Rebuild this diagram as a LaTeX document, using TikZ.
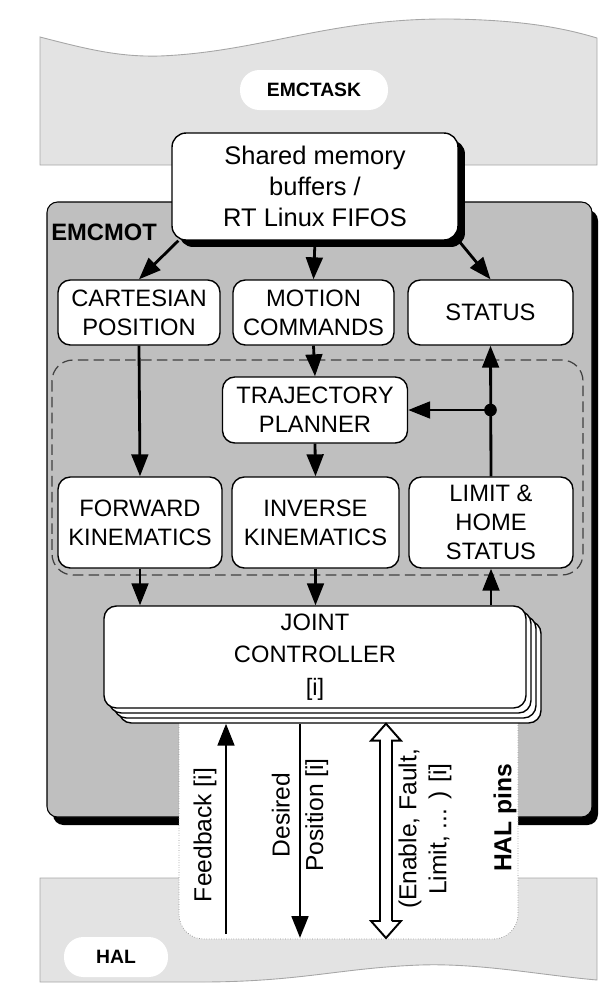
\documentclass[tikz,border=0pt]{standalone}
\usepackage{fontspec}
\setmainfont{Liberation Sans}
\usetikzlibrary{arrows.meta,shadows,calc}

\tikzset{
  box/.style={draw, fill=white, rounded corners=7pt, align=center, inner sep=0pt,
    line width=0.8pt, font=\fontsize{13.5}{16.5}\selectfont},
  arr/.style={line width=1.6pt, -{Triangle[length=12.5pt,width=9.5pt]}},
  pill/.style={fill=white, rounded corners=11pt, minimum height=0.8cm, inner sep=0pt,
    font=\bfseries\fontsize{11}{13}\selectfont},
  band/.style={fill=black!11, draw=black!35, line width=0.5pt},
  pinlabel/.style={rotate=90, align=center, inner sep=0pt, font=\fontsize{14}{19}\selectfont},
  shadowbox/.style={general shadow={fill=black, shadow xshift=0.14cm, shadow yshift=-0.14cm}},
  jointstack/.style={
    copy shadow={shadow xshift=0.3cm, shadow yshift=-0.3cm, draw=black, fill=white},
    copy shadow={shadow xshift=0.2cm, shadow yshift=-0.2cm, draw=black, fill=white},
    copy shadow={shadow xshift=0.1cm, shadow yshift=-0.1cm, draw=black, fill=white}},
}

\begin{document}
\begin{tikzpicture}[x=0.02cm, y=-0.02cm]
  \useasboundingbox (0,0) rectangle (611,988);

  %==================== EMCTASK and HAL ====================
  \draw[band] (40,37) .. controls (90,50) and (120,57) .. (160,56)
    .. controls (260,52) and (330,18) .. (450,19)
    .. controls (530,20) and (570,30) .. (597,38) -- (597,165) -- (40,165) -- cycle;
  \node[pill, minimum width=2.96cm] (task) at (314,90) {EMCTASK};

  \draw[band] (40,878) -- (597,878) -- (597,980)
    .. controls (540,975) and (480,963) .. (420,965)
    .. controls (340,968) and (300,982) .. (200,982) -- (40,982) -- cycle;
  \node[pill, minimum width=2.08cm] (hal) at (116,957) {HAL};

  %==================== EMCMOT ====================
  \fill[rounded corners=6pt] (53,210) rectangle (598,825);
  \draw[fill=black!25, line width=0.6pt, rounded corners=6pt] (47,202) rectangle (592,817);
  \node[anchor=west, inner sep=0pt, font=\bfseries\fontsize{13.5}{16}\selectfont] (mot) at (51,232) {EMCMOT};

  % HAL pins area
  \draw[fill=white, draw=black!45, densely dotted, rounded corners=14pt]
    (179,700) -- (179,939) -- (518,939) -- (518,700);

  % kinematics group
  \draw[dash pattern=on 6pt off 3pt, black!75, line width=0.7pt, rounded corners=12pt]
    (52,360) rectangle (583,575);

  %==================== Blocks ====================
  \node[box, shadowbox, minimum width=5.72cm, minimum height=2.14cm, rounded corners=8pt,
    font=\fontsize{14.5}{17.5}\selectfont] (shared) at (315,186.5) {Shared memory\\buffers /\\RT Linux FIFOS};

  \node[box, minimum width=3.24cm, minimum height=1.3cm] (cart) at (139,312.5) {CARTESIAN\\POSITION};
  \node[box, minimum width=3.22cm, minimum height=1.3cm] (motion) at (313.5,312.5) {MOTION\\COMMANDS};
  \node[box, minimum width=3.3cm, minimum height=1.3cm] (status) at (490.5,312.5) {STATUS};

  \node[box, minimum width=3.7cm, minimum height=1.32cm] (traj) at (315,410) {TRAJECTORY\\PLANNER};

  \node[box, minimum width=3.28cm, minimum height=1.82cm] (fwd) at (140,522.5) {FORWARD\\KINEMATICS};
  \node[box, minimum width=3.34cm, minimum height=1.82cm] (inv) at (315.5,522.5) {INVERSE\\KINEMATICS};
  \node[box, minimum width=3.28cm, minimum height=1.82cm] (limit) at (491,522.5) {LIMIT \&\\HOME\\STATUS};

  \node[box, jointstack, minimum width=8.44cm, minimum height=2.04cm,
    font=\fontsize{13.5}{18.5}\selectfont] (jc) at (315,657) {JOINT\\CONTROLLER\\{[i]}};

  %==================== Connections ====================
  \draw[arr] ([xshift=0.14cm]shared.south west) -- (cart.north);
  \draw[arr] (shared.south) -- (motion.north);
  \draw[arr] (shared.south east) -- (status.north);

  \draw[arr] (cart.south) -- (fwd.north);
  \draw[arr] (motion.south) -- (traj.north);
  \draw[arr] (traj.south) -- (inv.north);
  \draw[arr] (limit.north) -- (status.south);

  % feedback of limits to the planner
  \coordinate (branch) at (status.south |- traj.east);
  \draw[arr] (branch) -- (traj.east);
  \fill (branch) circle (3.6pt);

  \foreach \n in {fwd,inv} {
    \draw[arr] (\n.south) -- (\n.south |- jc.north);
  }
  \draw[arr] (limit.south |- jc.north) -- (limit.south);

  %==================== HAL pins ====================
  \coordinate (stack) at ([yshift=-0.3cm]jc.south);
  \coordinate (fb) at (226,934);
  \coordinate (dp) at (300,938);
  \coordinate (en) at (386,938);

  \draw[arr] (fb) -- (fb |- stack);
  \draw[arr] (dp |- stack) -- (dp);

  % hollow two-way arrow
  \draw[fill=white, line width=1.1pt, line join=miter]
    (en |- stack) -- ++(15,17) -- ++(-9,0) |- ([xshift=0.12cm, yshift=0.34cm]en)
    -- ++(9,0) -- (en) -- ++(-15,-17) -- ++(9,0) |- ([xshift=-0.3cm, yshift=-0.34cm]en |- stack)
    -- cycle;

  \node[pinlabel] (fbl) at (205,835) {Feedback [i]};
  \node[pinlabel] (dpl) at (300,815) {Desired\\Position [i]};
  \node[pinlabel, font=\fontsize{14}{17}\selectfont] (enl) at (425,829) {(Enable, Fault,\\Limit, ... ) [i]};
  \node[pinlabel, font=\bfseries\fontsize{14}{17}\selectfont] (hpl) at (505,818) {HAL pins};

\end{tikzpicture}
\end{document}
